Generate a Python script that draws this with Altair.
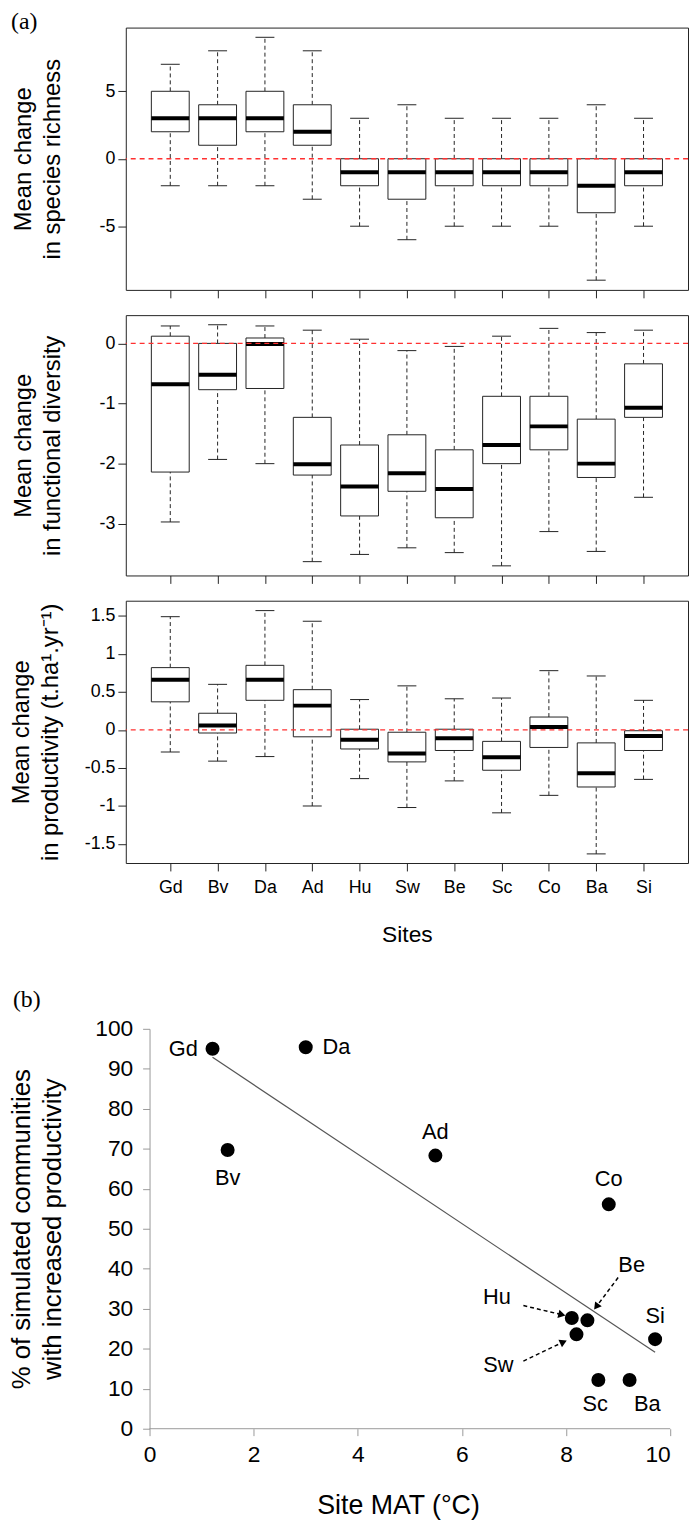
import altair as alt
import pandas as pd

# ---------------- data ----------------
sites = ["Gd", "Bv", "Da", "Ad", "Hu", "Sw", "Be", "Sc", "Co", "Ba", "Si"]
site_idx = list(range(1, len(sites) + 1))

# (a) top: mean change in species richness
sr_min = [-2, -2, -2, -3, -5, -6, -5, -5, -5, -9, -5]
sr_q1 = [2, 1, 2, 1, -2, -3, -2, -2, -2, -4, -2]
sr_med = [3, 3, 3, 2, -1, -1, -1, -1, -1, -2, -1]
sr_q3 = [5, 4, 5, 4, 0, 0, 0, 0, 0, 0, 0]
sr_max = [7, 8, 9, 8, 3, 4, 3, 3, 3, 4, 3]

# (a) middle: mean change in functional diversity
fd_min = [-2.97, -1.93, -2.00, -3.63, -3.51, -3.40, -3.48, -3.70, -3.13, -3.46, -2.56]
fd_q1 = [-2.14, -0.77, -0.75, -2.19, -2.87, -2.46, -2.90, -2.00, -1.77, -2.23, -1.23]
fd_med = [-0.68, -0.52, -0.01, -2.01, -2.38, -2.16, -2.42, -1.69, -1.38, -2.00, -1.07]
fd_q3 = [0.12, 0.00, 0.09, -1.23, -1.69, -1.52, -1.77, -0.88, -0.88, -1.26, -0.34]
fd_max = [0.29, 0.31, 0.29, 0.22, 0.07, -0.12, -0.05, 0.12, 0.25, 0.18, 0.22]

# (a) bottom: mean change in productivity
pr_min = [-0.29, -0.41, -0.35, -1.00, -0.64, -1.02, -0.67, -1.09, -0.86, -1.63, -0.65]
pr_q1 = [0.37, -0.04, 0.39, -0.09, -0.25, -0.42, -0.27, -0.53, -0.23, -0.75, -0.27]
pr_med = [0.66, 0.06, 0.66, 0.32, -0.13, -0.31, -0.11, -0.36, 0.04, -0.57, -0.08]
pr_q3 = [0.82, 0.22, 0.85, 0.53, 0.01, -0.03, 0.01, -0.15, 0.17, -0.17, -0.01]
pr_max = [1.49, 0.60, 1.57, 1.43, 0.40, 0.58, 0.41, 0.42, 0.78, 0.71, 0.39]

# (b) scatter
b_sites = ["Gd", "Da", "Bv", "Ad", "Co", "Hu", "Be", "Sw", "Si", "Sc", "Ba"]
b_mat = [1.21, 3.00, 1.50, 5.49, 8.82, 8.11, 8.41, 8.20, 9.71, 8.62, 9.22]
b_pct = [95.0, 95.4, 69.7, 68.3, 56.1, 27.7, 27.1, 23.6, 22.4, 12.2, 12.2]
b_lab_x = [0.65, 3.59, 1.50, 5.49, 8.82, 6.67, 9.26, 6.70, 9.71, 8.56, 9.56]
b_lab_y = [95.0, 95.4, 62.8, 74.1, 62.4, 32.9, 40.9, 15.8, 28.2, 6.2, 6.2]
b_xticks = [0, 2, 4, 6, 8, 10]
b_yticks = [0, 10, 20, 30, 40, 50, 60, 70, 80, 90, 100]

# annotation arrows (Hu, Be, Sw)
arr_x1 = [7.18, 9.00, 7.18]
arr_y1 = [30.8, 37.8, 16.9]
arr_x2 = [7.92, 8.58, 7.95]
arr_y2 = [28.5, 30.5, 21.7]
arr_ang = [104, 217, 65]

panel_tags = ["(a)", "(b)"]

FONT = "Liberation Sans"
SERIF = "Liberation Serif"


def tag_mark(text, xpx, ypx):
    return alt.Chart(pd.DataFrame({"t": [text]})).mark_text(
        font=SERIF, fontSize=24, color="black", align="left",
        baseline="middle").encode(
        x=alt.value(xpx), y=alt.value(ypx), text="t:N")


def box_panel(mins, q1s, meds, q3s, maxs, ydomain, yticks, ytitle, tpad,
              height, bottom, tag=None):
    df = pd.DataFrame({
        "i": site_idx, "site": sites,
        "mn": mins, "q1": q1s, "med": meds, "q3": q3s, "mx": maxs,
    })
    df["xl"] = df["i"] - 0.4
    df["xr"] = df["i"] + 0.4
    df["sl"] = df["i"] - 0.2
    df["sr"] = df["i"] + 0.2

    xs = alt.Scale(domain=[0.06, 11.94], nice=False, zero=False)
    ys = alt.Scale(domain=ydomain, nice=False, zero=False)
    label_arr = "[" + ",".join("'%s'" % s for s in sites) + "]"
    xkw = dict(
        values=site_idx, labelExpr=label_arr + "[datum.value-1]",
        labels=bottom, domain=False, grid=False, ticks=True, tickSize=8,
        tickColor="#222", labelFontSize=18, labelPadding=8, labelColor="black",
        titleFontSize=23, titlePadding=27, titleFontWeight="normal",
        titleColor="black", titleLineHeight=25,
    )
    xaxis = alt.Axis(title=["Sites", " "], **xkw) if bottom else alt.Axis(title=None, **xkw)
    yaxis = alt.Axis(
        values=yticks, labelExpr="datum.value + ''", title=ytitle,
        domain=False, grid=False, tickSize=8, tickColor="#222",
        labelFontSize=18, labelPadding=3, labelColor="black",
        titleFontSize=24, titleLineHeight=29, titlePadding=tpad,
        titleFontWeight="normal", titleColor="black",
    )

    base = alt.Chart(df)
    wlo = base.mark_rule(color="#222", strokeDash=[4, 3], strokeWidth=1).encode(
        x=alt.X("i:Q", scale=xs, axis=xaxis),
        y=alt.Y("mn:Q", scale=ys, axis=yaxis), y2="q1:Q")
    whi = base.mark_rule(color="#222", strokeDash=[4, 3], strokeWidth=1).encode(
        x=alt.X("i:Q", scale=xs, axis=xaxis),
        y=alt.Y("q3:Q", scale=ys, axis=yaxis), y2="mx:Q")
    slo = base.mark_rule(color="#222", strokeWidth=1).encode(
        x=alt.X("sl:Q", scale=xs, axis=xaxis), x2="sr:Q",
        y=alt.Y("mn:Q", scale=ys, axis=yaxis))
    shi = base.mark_rule(color="#222", strokeWidth=1).encode(
        x=alt.X("sl:Q", scale=xs, axis=xaxis), x2="sr:Q",
        y=alt.Y("mx:Q", scale=ys, axis=yaxis))
    box = base.mark_rect(fill="white", stroke="#222", strokeWidth=1).encode(
        x=alt.X("xl:Q", scale=xs, axis=xaxis), x2="xr:Q",
        y=alt.Y("q1:Q", scale=ys, axis=yaxis), y2="q3:Q")
    med = base.mark_rule(color="black", strokeWidth=4).encode(
        x=alt.X("xl:Q", scale=xs, axis=xaxis), x2="xr:Q",
        y=alt.Y("med:Q", scale=ys, axis=yaxis))
    zero = alt.Chart(pd.DataFrame({"z": [0]})).mark_rule(
        color="#ff3030", strokeDash=[5, 4], strokeWidth=1.3).encode(
        y=alt.Y("z:Q", scale=ys, axis=yaxis))
    layers = [wlo, whi, slo, shi, box, med, zero]
    if tag is not None:
        layers.append(tag)
    return alt.layer(*layers).properties(width=568, height=height)


p1 = box_panel(sr_min, sr_q1, sr_med, sr_q3, sr_max, [-9.72, 9.72], [-5, 0, 5],
               ["Mean change", "in species richness"], 35, 265, False,
               tag_mark(panel_tags[0], -116, -6))
p2 = box_panel(fd_min, fd_q1, fd_med, fd_q3, fd_max, [-3.86, 0.47], [-3, -2, -1, 0],
               ["Mean change", "in functional diversity"], 35, 263, False)
p3 = box_panel(pr_min, pr_q1, pr_med, pr_q3, pr_max, [-1.75, 1.70],
               [-1.5, -1, -0.5, 0, 0.5, 1, 1.5],
               ["Mean change", "in productivity (t.ha¹.yr⁻¹)"], 22, 265, True)

# ---------------- panel (b) ----------------
bdf = pd.DataFrame({"site": b_sites, "mat": b_mat, "pct": b_pct,
                    "lx": b_lab_x, "ly": b_lab_y})
adf = pd.DataFrame({"x1": arr_x1, "y1": arr_y1, "x2": arr_x2, "y2": arr_y2,
                    "ang": arr_ang})
axdf = pd.DataFrame({"x": [min(b_xticks)], "x2": [max(b_xticks)],
                     "y": [min(b_yticks)]})

bxs = alt.Scale(domain=[-0.456, 10], nice=False, zero=False)
bys = alt.Scale(domain=[0, 100], nice=False, zero=False)
bxaxis = alt.Axis(values=b_xticks, title="Site MAT (°C)", grid=False,
                  domain=False, tickColor="#999", tickSize=7,
                  labelFontSize=23, labelPadding=8, labelColor="black",
                  titleFontSize=27, titlePadding=27, titleFontWeight="normal",
                  titleColor="black")
byaxis = alt.Axis(values=b_yticks, offset=-24,
                  title=["% of simulated communities", "with increased productivity"],
                  grid=False, domainColor="#999", tickColor="#999", tickSize=7,
                  labelFontSize=23, labelPadding=10, labelColor="black",
                  titleFontSize=26, titleLineHeight=31, titlePadding=30,
                  titleFontWeight="normal", titleColor="black")

bbase = alt.Chart(bdf)
xline = alt.Chart(axdf).mark_rule(color="#999", strokeWidth=1).encode(
    x=alt.X("x:Q", scale=bxs, axis=bxaxis), x2="x2:Q",
    y=alt.Y("y:Q", scale=bys, axis=byaxis))
reg = bbase.transform_regression("mat", "pct").mark_line(
    color="#555", strokeWidth=1.2).encode(
    x=alt.X("mat:Q", scale=bxs, axis=bxaxis),
    y=alt.Y("pct:Q", scale=bys, axis=byaxis))
pts = bbase.mark_circle(size=200, color="black", opacity=1).encode(
    x=alt.X("mat:Q", scale=bxs, axis=bxaxis),
    y=alt.Y("pct:Q", scale=bys, axis=byaxis))
labs = bbase.mark_text(fontSize=22, font=FONT, color="black",
                       baseline="middle", align="center").encode(
    x=alt.X("lx:Q", scale=bxs, axis=bxaxis),
    y=alt.Y("ly:Q", scale=bys, axis=byaxis),
    text="site:N")
arrows = alt.Chart(adf).mark_rule(color="black", strokeDash=[4, 3],
                                  strokeWidth=1.5).encode(
    x=alt.X("x1:Q", scale=bxs, axis=bxaxis), x2="x2:Q",
    y=alt.Y("y1:Q", scale=bys, axis=byaxis), y2="y2:Q")
heads = alt.Chart(adf).mark_point(shape="triangle-up", filled=True, size=70,
                                  color="black", opacity=1).encode(
    x=alt.X("x2:Q", scale=bxs, axis=bxaxis),
    y=alt.Y("y2:Q", scale=bys, axis=byaxis),
    angle=alt.Angle("ang:Q", scale=None))

panel_b = alt.layer(xline, reg, arrows, heads, pts, labs,
                    tag_mark(panel_tags[1], -114, -29)).properties(
    width=550, height=404,
    view=alt.ViewBackground(stroke="transparent"))

chart = alt.vconcat(p1, p2, p3, panel_b, spacing=15.5).properties(
    padding={"left": 0, "top": -7, "right": 0, "bottom": 0}
).configure(font=FONT).configure_view(stroke="#222", strokeWidth=1)

chart.save("out.html", embed_options={"renderer": "svg", "actions": False})
